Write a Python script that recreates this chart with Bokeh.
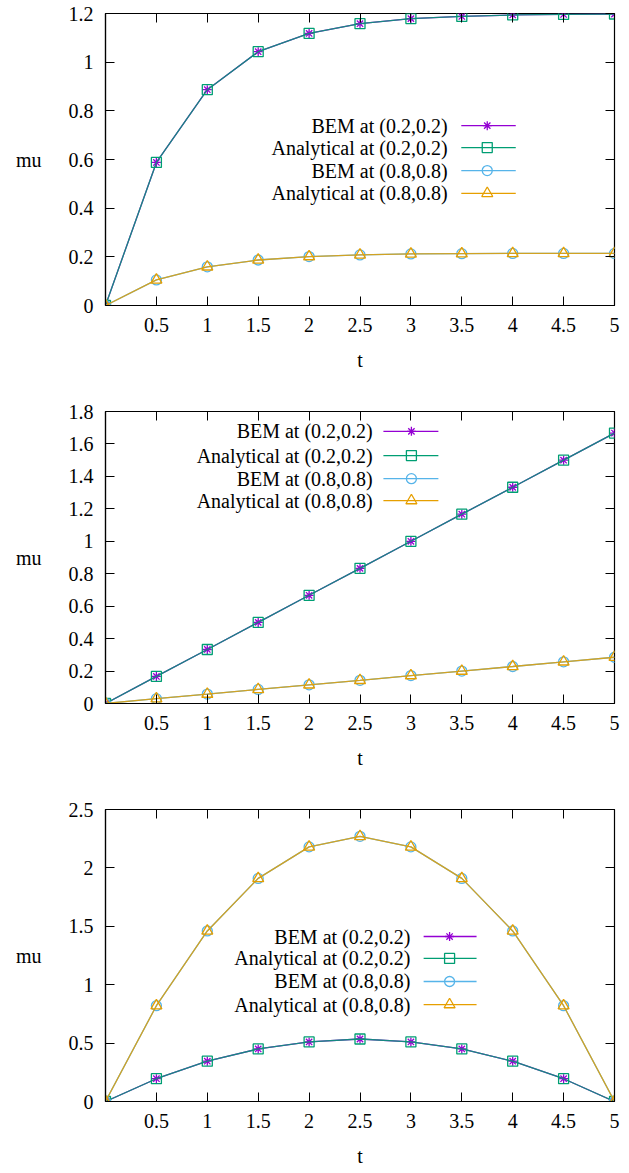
from bokeh.plotting import figure
from bokeh.layouts import column
from bokeh.models import Range1d, FixedTicker, LinearAxis, CustomJSTickFormatter
from bokeh.core.properties import value
from bokeh.embed import file_html
from bokeh.resources import INLINE

# ---------------- data ----------------
T = [0, 0.5, 1, 1.5, 2, 2.5, 3, 3.5, 4, 4.5, 5]

P1_BEM_02 = [0, 0.588, 0.887, 1.043, 1.118, 1.158, 1.179, 1.188, 1.194, 1.196, 1.198]
P1_ANA_02 = [0, 0.588, 0.887, 1.043, 1.118, 1.158, 1.179, 1.188, 1.194, 1.196, 1.198]
P1_BEM_08 = [0, 0.105, 0.159, 0.187, 0.201, 0.208, 0.212, 0.213, 0.214, 0.214, 0.214]
P1_ANA_08 = [0, 0.105, 0.159, 0.187, 0.201, 0.208, 0.212, 0.213, 0.214, 0.214, 0.214]

P2_BEM_02 = [0, 0.167, 0.333, 0.5, 0.667, 0.833, 1.0, 1.167, 1.333, 1.5, 1.667]
P2_ANA_02 = [0, 0.167, 0.333, 0.5, 0.667, 0.833, 1.0, 1.167, 1.333, 1.5, 1.667]
P2_BEM_08 = [0, 0.03, 0.058, 0.087, 0.115, 0.143, 0.172, 0.2, 0.228, 0.257, 0.285]
P2_ANA_08 = [0, 0.03, 0.058, 0.087, 0.115, 0.143, 0.172, 0.2, 0.228, 0.257, 0.285]

P3_BEM_02 = [0, 0.195, 0.345, 0.45, 0.51, 0.535, 0.51, 0.45, 0.345, 0.195, 0]
P3_ANA_02 = [0, 0.195, 0.345, 0.45, 0.51, 0.535, 0.51, 0.45, 0.345, 0.195, 0]
P3_BEM_08 = [0, 0.82, 1.46, 1.91, 2.18, 2.27, 2.18, 1.91, 1.46, 0.82, 0]
P3_ANA_08 = [0, 0.82, 1.46, 1.91, 2.18, 2.27, 2.18, 1.91, 1.46, 0.82, 0]

X_TICKS = [0.5, 1, 1.5, 2, 2.5, 3, 3.5, 4, 4.5, 5]
Y1_TICKS = [0, 0.2, 0.4, 0.6, 0.8, 1, 1.2]
Y2_TICKS = [0, 0.2, 0.4, 0.6, 0.8, 1, 1.2, 1.4, 1.6, 1.8]
Y3_TICKS = [0, 0.5, 1, 1.5, 2, 2.5]

LABELS = ["BEM at (0.2,0.2)", "Analytical at (0.2,0.2)",
          "BEM at (0.8,0.8)", "Analytical at (0.8,0.8)"]

# ---------------- style ----------------
COLORS = ["#9400d3", "#009e73", "#56b4e9", "#e69f00"]
LINE_ALPHA = [1.0, 0.86, 1.0, 0.85]
MARKERS = ["asterisk", "square", "circle", "triangle"]
SIZES = [9, 10, 10, 11]
FONT = "'Liberation Serif', 'Times New Roman', serif"
FS = "20px"
W = 629
FRAME_W = 509
LEFT = 105
TOP = 13
FRAME_H = 292


def panel(series, ymax, yticks, height, legend_cfg):
    bottom = height - TOP - FRAME_H
    p = figure(width=W, height=height, x_range=Range1d(0, 5), y_range=Range1d(0, ymax),
               output_backend="svg", toolbar_location=None,
               min_border_left=LEFT, min_border_right=W - LEFT - FRAME_W,
               min_border_top=TOP, min_border_bottom=bottom)
    p.xgrid.visible = False
    p.ygrid.visible = False
    p.outline_line_color = "black"
    p.outline_line_width = 1.2
    p.outline_line_alpha = 1.0

    for i, ys in enumerate(series):
        p.line(T, ys, line_color=COLORS[i], line_width=1.3, line_alpha=LINE_ALPHA[i])
        p.scatter(T, ys, marker=MARKERS[i], size=SIZES[i], line_color=COLORS[i],
                  fill_color=None, line_width=1.3)

    # legend (gnuplot style: text right-aligned, then sample)
    tx, lx0, lx1, mx, rows = legend_cfg
    xd = lambda f: 5 * f
    yd = lambda f: ymax * (1 - f)
    ry = [yd(r) for r in rows]
    p.text(x=[xd(tx)] * 4, y=ry, text=LABELS, text_align="right", text_baseline="middle",
           text_font=value(FONT), text_font_size=FS, text_color="black")
    p.segment(x0=[xd(lx0)] * 4, y0=ry, x1=[xd(lx1)] * 4, y1=ry, line_color=COLORS, line_width=1.3)
    for i in range(4):
        p.scatter([xd(mx)], [ry[i]], marker=MARKERS[i], size=SIZES[i], line_color=COLORS[i],
                  fill_color=None, line_width=1.3)

    fmt = CustomJSTickFormatter(code="return String(Math.round(tick*1000)/1000);")
    blank = CustomJSTickFormatter(code="return '';")
    # bottom axis
    xa = p.xaxis[0]
    xa.ticker = FixedTicker(ticks=X_TICKS)
    xa.formatter = fmt
    xa.major_tick_in = 9
    xa.major_tick_out = 0
    xa.minor_tick_line_color = None
    xa.axis_line_color = "black"
    xa.axis_line_width = 1.2
    xa.major_tick_line_color = "black"
    xa.major_label_text_font = FONT
    xa.major_label_text_font_size = FS
    xa.major_label_text_color = "black"
    xa.major_label_standoff = 12
    xa.axis_label = "t"
    xa.axis_label_text_font = FONT
    xa.axis_label_text_font_size = FS
    xa.axis_label_text_font_style = "normal"
    xa.axis_label_text_color = "black"
    xa.axis_label_standoff = 14

    ya = p.yaxis[0]
    ya.ticker = FixedTicker(ticks=yticks)
    ya.formatter = fmt
    ya.major_tick_in = 9
    ya.major_tick_out = 0
    ya.minor_tick_line_color = None
    ya.axis_line_color = "black"
    ya.axis_line_width = 1.2
    ya.major_tick_line_color = "black"
    ya.major_label_text_font = FONT
    ya.major_label_text_font_size = FS
    ya.major_label_text_color = "black"
    ya.major_label_standoff = 12
    ya.axis_label = "mu"
    ya.axis_label_orientation = "horizontal"
    ya.axis_label_text_font = FONT
    ya.axis_label_text_font_size = FS
    ya.axis_label_text_font_style = "normal"
    ya.axis_label_text_color = "black"
    ya.axis_label_standoff = 24

    # mirrored ticks
    top = LinearAxis(ticker=FixedTicker(ticks=X_TICKS), formatter=blank,
                     major_tick_in=9, major_tick_out=0, minor_tick_line_color=None,
                     axis_line_color=None, major_label_standoff=0,
                     major_tick_line_color="black")
    p.add_layout(top, "above")
    right = LinearAxis(ticker=FixedTicker(ticks=yticks), formatter=blank,
                       major_tick_in=9, major_tick_out=0, minor_tick_line_color=None,
                       axis_line_color=None, major_label_standoff=0,
                       major_tick_line_color="black")
    p.add_layout(right, "right")
    return p


p1 = panel([P1_BEM_02, P1_ANA_02, P1_BEM_08, P1_ANA_08], 1.2, Y1_TICKS, 398,
           (0.672, 0.699, 0.806, 0.750, [0.384, 0.459, 0.538, 0.616]))
p2 = panel([P2_BEM_02, P2_ANA_02, P2_BEM_08, P2_ANA_08], 1.8, Y2_TICKS, 398,
           (0.525, 0.546, 0.654, 0.601, [0.068, 0.151, 0.230, 0.305]))
p3 = panel([P3_BEM_02, P3_ANA_02, P3_BEM_08, P3_ANA_08], 2.5, Y3_TICKS, 377,
           (0.599, 0.625, 0.729, 0.676, [0.435, 0.510, 0.589, 0.668]))

layout = column(p1, p2, p3, spacing=0)
open("out.html", "w").write(file_html(layout, INLINE))
